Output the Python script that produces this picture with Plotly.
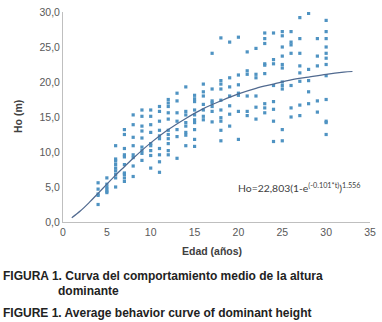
import plotly.graph_objects as go

# ---- data ----
ages = list(range(4, 31))
heights = {
    4: [5.6, 4.7, 4.0, 3.8, 2.5],
    5: [6.3, 5.4, 5.0, 4.7, 4.4, 4.2],
    6: [10.9, 9.0, 8.7, 8.2, 7.7, 7.3, 6.8, 6.3, 5.0],
    7: [13.2, 12.5, 10.5, 9.6, 9.3, 8.2, 7.0, 6.8, 6.3, 5.8],
    8: [15.3, 13.9, 12.1, 10.9, 9.6, 9.2, 8.0, 6.5],
    9: [16.0, 15.1, 13.7, 13.0, 12.0, 10.7, 10.2, 9.8, 8.8],
    10: [16.0, 15.1, 13.9, 12.8, 11.2, 10.9, 10.2, 9.5, 7.7],
    11: [16.5, 15.8, 14.4, 13.1, 12.3, 11.9, 10.5, 9.6, 8.6, 7.1],
    12: [17.5, 17.0, 16.5, 15.6, 14.7, 13.1, 12.5, 11.9, 11.2, 10.2, 9.6],
    13: [18.4, 17.3, 15.6, 14.4, 13.2, 12.2, 9.1],
    14: [19.3, 15.8, 15.3, 14.2, 13.7, 12.8, 12.4, 10.9],
    15: [18.1, 17.6, 17.2, 16.0, 15.3, 14.6, 14.2, 13.2, 11.8, 10.8],
    16: [19.7, 18.6, 18.0, 16.8, 16.0, 15.1, 14.6],
    17: [24.1, 19.0, 17.3, 17.0, 16.5, 15.8, 14.3],
    18: [26.3, 20.2, 19.7, 19.0, 17.4, 16.0, 14.9, 14.4, 13.1, 11.6],
    19: [25.7, 20.6, 19.3, 18.0, 16.6, 15.4, 13.7],
    20: [26.4, 21.0, 19.6, 18.4, 18.1, 15.8, 11.8],
    21: [24.3, 21.6, 21.1, 18.0, 15.8, 15.2],
    22: [24.8, 21.1, 20.6, 18.0, 16.4, 14.7],
    23: [27.0, 26.2, 25.5, 22.6, 22.4, 21.2, 16.9, 16.3, 15.6],
    24: [27.0, 23.2, 22.6, 19.5, 17.2, 16.1, 14.4, 11.5],
    25: [27.2, 26.6, 25.0, 23.7, 22.5, 22.0, 20.0, 19.5, 19.0, 13.2, 11.6],
    26: [27.2, 25.7, 25.3, 24.1, 19.5, 16.3, 15.0],
    27: [29.2, 26.2, 24.1, 22.3, 21.3, 20.1, 16.7, 15.2],
    28: [29.8, 21.8, 20.2, 18.6, 16.9],
    29: [26.2, 23.7, 22.3, 17.3, 15.7],
    30: [28.8, 27.2, 26.2, 25.0, 24.1, 23.4, 22.5, 20.9, 17.5, 14.4, 14.2, 12.5],
}

# fitted curve
curve_age = [1, 2, 3, 4, 5, 6, 7, 8, 10, 12, 14, 16, 18, 20, 22, 24, 26, 28, 30, 32, 33]
curve_ho = [0.6, 1.6, 2.8, 4.1, 5.4, 6.7, 7.9, 9.1, 11.3, 13.2, 14.8, 16.2, 17.3, 18.3,
            19.1, 19.7, 20.3, 20.7, 21.1, 21.4, 21.5]

x_ticks = [0, 5, 10, 15, 20, 25, 30, 35]
y_ticks = [0, 5, 10, 15, 20, 25, 30]

equation = "Ho=22,803(1-e<sup>(-0.101*t)</sup>)<sup>1.556</sup>"
y_title = "Ho (m)"
x_title = "Edad (años)"
caption_es_1 = "FIGURA 1. Curva del comportamiento medio de la altura"
caption_es_2 = "dominante"
caption_en = "FIGURE 1. Average behavior curve of dominant height"

xs, ys = [], []
for a in ages:
    for h in heights[a]:
        xs.append(a)
        ys.append(h)

fig = go.Figure()
fig.add_trace(go.Scatter(
    x=xs, y=ys, mode="markers",
    marker=dict(symbol="square", size=3.2, color="#4f93c2", line=dict(width=0)),
    showlegend=False, hoverinfo="skip"))
fig.add_trace(go.Scatter(
    x=curve_age, y=curve_ho, mode="lines", line_shape="spline",
    line=dict(color="#50698f", width=1.2), showlegend=False, hoverinfo="skip"))

axis_font = dict(family="Liberation Sans, Arial", size=10.5, color="#595959")

fig.update_xaxes(range=[0, 35], tickvals=x_ticks, ticks="", showgrid=False, zeroline=False,
                 showline=True, linecolor="#bfbfbf", linewidth=1, tickfont=axis_font,
                 ticklabeloverflow="allow", fixedrange=True)
fig.update_yaxes(range=[0, 30], tickvals=y_ticks, tickformat=".1f", ticks="", showgrid=False,
                 zeroline=False, showline=True, linecolor="#bfbfbf", linewidth=1,
                 tickfont=axis_font, ticklabeloverflow="allow", fixedrange=True)

cap_font = dict(family="Liberation Sans, Arial", size=12, color="#222222", weight="bold")
annots = [
    dict(text=y_title, xref="paper", yref="paper", x=0, y=0.5, xshift=-45, textangle=-90,
         showarrow=False, xanchor="center", yanchor="middle",
         font=dict(family="Liberation Sans, Arial", size=10.5, color="#404040", weight="bold")),
    dict(text=x_title, xref="paper", yref="paper", x=0.5, y=0, yshift=-29, xshift=-5,
         showarrow=False, xanchor="center", yanchor="middle",
         font=dict(family="Liberation Sans, Arial", size=10.5, color="#404040", weight="bold")),
    dict(text=equation, xref="x", yref="y", x=19.7, y=5.0, showarrow=False,
         xanchor="left", yanchor="middle",
         font=dict(family="Lato, Liberation Sans", size=10.4, color="#404040")),
    dict(text=caption_es_1, xref="paper", yref="paper", x=0, y=0, xshift=-62.5, yshift=-54,
         showarrow=False, xanchor="left", yanchor="middle", font=cap_font),
    dict(text=caption_es_2, xref="paper", yref="paper", x=0, y=0, xshift=-7, yshift=-69,
         showarrow=False, xanchor="left", yanchor="middle", font=cap_font),
    dict(text=caption_en, xref="paper", yref="paper", x=0, y=0, xshift=-62.5, yshift=-91,
         showarrow=False, xanchor="left", yanchor="middle", font=cap_font),
]

fig.update_layout(
    width=382, height=322,
    margin=dict(l=62.5, r=7, t=6, b=100),
    paper_bgcolor="white", plot_bgcolor="white",
    separators=",.",
    annotations=annots,
)

fig.write_html("out.html", config={"displayModeBar": False},
               post_script="document.body.style.margin='0';document.body.style.overflow='hidden';")
